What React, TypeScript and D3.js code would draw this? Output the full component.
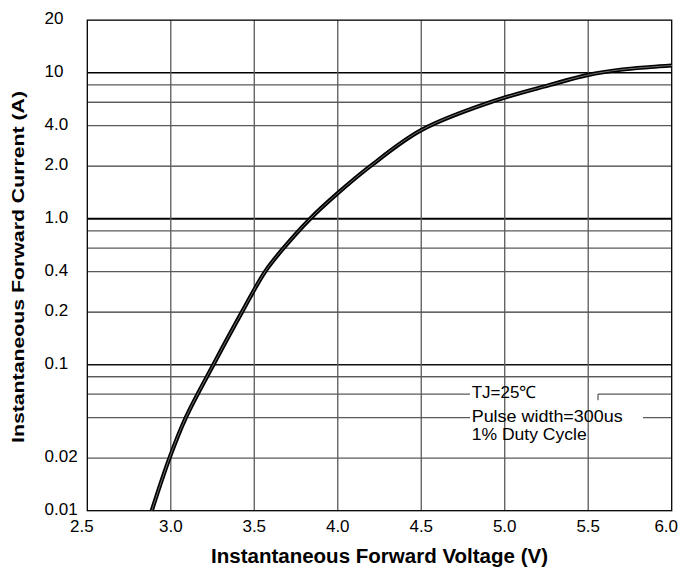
import React from "react";
import * as d3 from "d3";

// ---- data ----
const VOLTAGE = [2.886, 2.992, 3.09, 3.255, 3.426, 3.565, 3.675, 3.835, 4.0, 4.195, 4.5, 4.914, 5.274, 5.5, 5.693, 5.873, 6.0];
const CURRENT = [0.01, 0.02, 0.04, 0.1, 0.2, 0.4, 0.6, 1.0, 1.4, 2.0, 3.7, 6.0, 8.0, 9.6, 10.4, 10.78, 11.0];

const X_TICKS = [2.5, 3.0, 3.5, 4.0, 4.5, 5.0, 5.5, 6.0];
const X_TICK_LABELS = ["2.5", "3.0", "3.5", "4.0", "4.5", "5.0", "5.5", "6.0"];
const Y_TICKS = [0.01, 0.02, 0.1, 0.2, 0.4, 1, 2, 4, 10, 20];
const Y_TICK_LABELS = ["0.01", "0.02", "0.1", "0.2", "0.4", "1.0", "2.0", "4.0", "10", "20"];
const Y_GRID = [0.02, 0.04, 0.06, 0.08, 0.1, 0.2, 0.4, 0.6, 0.8, 1, 2, 4, 6, 8, 10];
const NOTES = ["TJ=25\u2103", "Pulse width=300us", "1% Duty Cycle"];
const X_TITLE = "Instantaneous Forward Voltage (V)";
const Y_TITLE = "Instantaneous Forward Current (A)";

// ---- layout / style ----
const W = 681;
const H = 570;
const LEFT = 87.3;
const RIGHT = 671.7;
const BOTTOM = 510.7;
const DECADE_PX = 146;
const MANTISSA = [1, 2, 4, 6, 8];
const MANTISSA_FRAC = [0, 0.36, 0.638, 0.798, 0.917];
const FONT = "'Liberation Sans', Arial, Helvetica, sans-serif";

function gridStyle(v: number): { stroke: string; width: number } {
  const k = +v.toPrecision(4);
  if (k === 1) return { stroke: "#000", width: 2 };
  if (k === 0.1) return { stroke: "#111", width: 1.6 };
  if (k === 10) return { stroke: "#000", width: 1.4 };
  if (k === 0.08 || k === 6 || k === 2) return { stroke: "#111", width: 1 };
  if (k === 0.2) return { stroke: "#333", width: 1.2 };
  return { stroke: "#5a5a5a", width: 1.2 };
}

export default function App() {
  const x = d3.scaleLinear().domain([2.5, 6.0]).range([LEFT, RIGHT]);

  const dom: number[] = [];
  const rng: number[] = [];
  for (let d = -2; d <= 1; d++) {
    for (let i = 0; i < MANTISSA.length; i++) {
      const v = +(MANTISSA[i] * Math.pow(10, d)).toPrecision(6);
      if (v > 20 + 1e-9) break;
      dom.push(v);
      rng.push(BOTTOM - (d + 2 + MANTISSA_FRAC[i]) * DECADE_PX);
    }
  }
  const y = d3.scaleLog().domain(dom).range(rng);
  const TOP = y(20);

  const pts = VOLTAGE.map((v, i) => [v, CURRENT[i]] as [number, number]);
  const line = d3
    .line<[number, number]>()
    .x((d) => x(d[0]))
    .y((d) => y(d[1]))
    .curve(d3.curveCatmullRom.alpha(0.5));
  const path = line(pts) || "";

  const noteX = 471.7;
  const noteBaselines = [398, 421.5, 440];
  const maskA = { x: 470, w: 128 };
  const maskB = { x: 470, w: 173 };

  return (
    <svg
      width={W}
      height={H}
      viewBox={`0 0 ${W} ${H}`}
      style={{ position: "absolute", left: 0, top: 0, background: "#fff" }}
      fontFamily={FONT}
    >
      <rect x={0} y={0} width={W} height={H} fill="#fff" />
      {/* horizontal grid */}
      {Y_GRID.map((v) => {
        const s = gridStyle(v);
        return (
          <line
            key={"h" + v}
            x1={LEFT}
            x2={RIGHT}
            y1={y(v)}
            y2={y(v)}
            stroke={s.stroke}
            strokeWidth={s.width}
          />
        );
      })}
      {/* text box masks */}
      <rect x={maskA.x} y={y(0.06) - 2} width={maskA.w} height={4} fill="#fff" />
      <rect x={maskB.x} y={y(0.04) - 2} width={maskB.w} height={4} fill="#fff" />
      <line
        x1={maskA.x + maskA.w}
        x2={maskA.x + maskA.w}
        y1={y(0.06)}
        y2={y(0.06) + 6}
        stroke="#333"
        strokeWidth={1}
      />
      {/* vertical grid */}
      {X_TICKS.slice(1, -1).map((v) => (
        <line
          key={"v" + v}
          x1={x(v)}
          x2={x(v)}
          y1={TOP}
          y2={BOTTOM}
          stroke="#5a5a5a"
          strokeWidth={1.3}
        />
      ))}
      {/* frame */}
      <rect
        x={LEFT}
        y={TOP}
        width={RIGHT - LEFT}
        height={BOTTOM - TOP}
        fill="none"
        stroke="#000"
        strokeWidth={1.3}
      />
      {/* curve */}
      <path d={path} fill="none" stroke="#000" strokeWidth={4.2} strokeLinejoin="round" />
      <path d={path} fill="none" stroke="#8a8a8a" strokeWidth={0.8} strokeLinejoin="round" />

      {/* y tick labels */}
      {Y_TICKS.map((v, i) => (
        <text key={"yl" + v} x={44.5} y={y(v) + 4} fontSize={17} fill="#000">
          {Y_TICK_LABELS[i]}
        </text>
      ))}
      {/* x tick labels */}
      {X_TICKS.map((v, i) => (
        <text
          key={"xl" + v}
          x={x(v) + (i === 0 || i === X_TICKS.length - 1 ? -5.5 : 0)}
          y={532}
          fontSize={17}
          textAnchor="middle"
          fill="#000"
        >
          {X_TICK_LABELS[i]}
        </text>
      ))}
      {/* titles */}
      <text
        x={379.5}
        y={562.5}
        fontSize={20}
        fontWeight="bold"
        textAnchor="middle"
        textLength={337}
        lengthAdjust="spacingAndGlyphs"
        fill="#000"
      >
        {X_TITLE}
      </text>
      <text
        transform={`translate(24,267) rotate(-90)`}
        fontSize={16}
        fontWeight="bold"
        textAnchor="middle"
        textLength={352}
        lengthAdjust="spacingAndGlyphs"
        fill="#000"
      >
        {Y_TITLE}
      </text>
      {/* notes */}
      {NOTES.map((t, i) => (
        <text
          key={"n" + i}
          x={noteX}
          y={noteBaselines[i]}
          fontSize={17}
          fill="#000"
          {...(i === 1 ? { textLength: 151, lengthAdjust: "spacingAndGlyphs" } : {})}
          {...(i === 2 ? { textLength: 115, lengthAdjust: "spacingAndGlyphs" } : {})}
        >
          {t}
        </text>
      ))}
    </svg>
  );
}
